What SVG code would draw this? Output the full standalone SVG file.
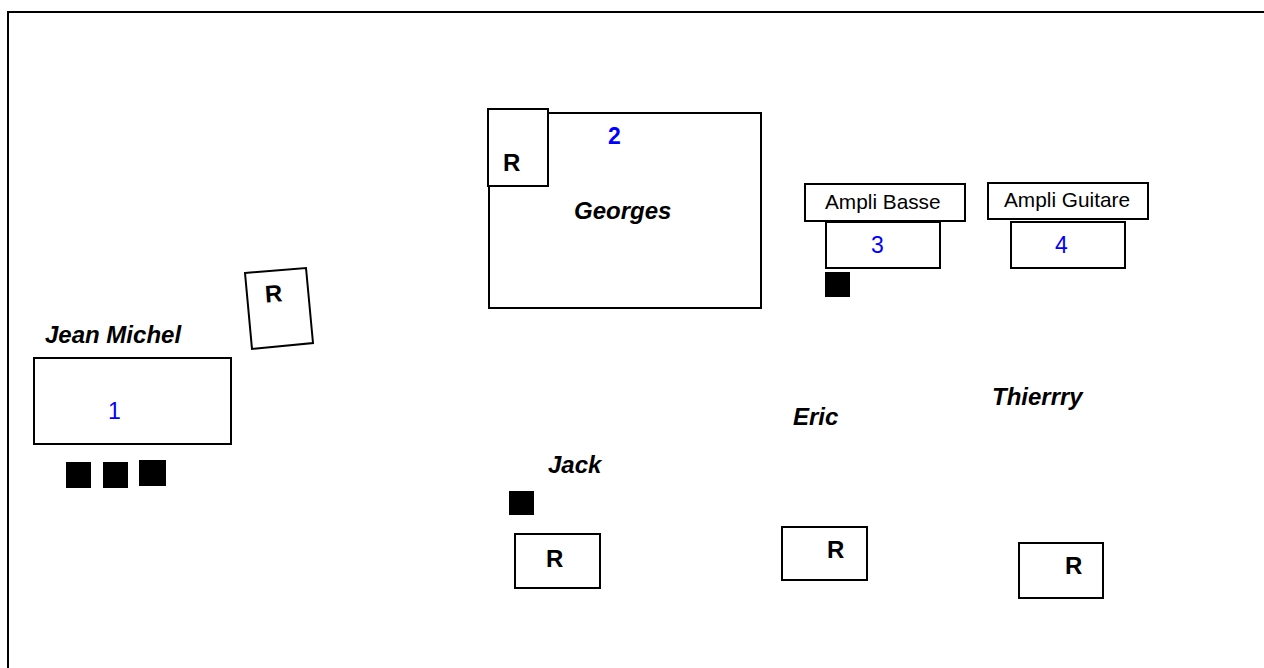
<svg xmlns="http://www.w3.org/2000/svg" width="1264" height="668" viewBox="0 0 1264 668">
<style>
.box{fill:#fff;stroke:#000;stroke-width:2}
.blk{fill:#000}
.r{font-family:"Liberation Sans",Arial,sans-serif;font-weight:bold;font-size:24px;fill:#000}
.name{font-family:"Liberation Sans",Arial,sans-serif;font-weight:bold;font-style:italic;font-size:24px;fill:#000}
.num{font-family:"Liberation Sans",Arial,sans-serif;font-size:23px;fill:#0000ff}
.amp{font-family:"Liberation Sans",Arial,sans-serif;font-size:20.8px;fill:#000}
</style>
<rect width="1264" height="668" fill="#fff"/>
<rect id="frame" x="8" y="12" width="1300" height="700" fill="none" stroke="#000" stroke-width="2"/>
<g id="connectors"></g>
<g id="jean-michel">
<text class="name" x="45" y="343">Jean Michel</text>
<rect class="box" x="34" y="358" width="197" height="86"/>
<text class="num" x="108" y="419">1</text>
<rect class="blk" x="66" y="462" width="25" height="26"/>
<rect class="blk" x="103" y="462" width="25" height="26"/>
<rect class="blk" x="139" y="460" width="27" height="26"/>
</g>
<g id="r-jean-michel">
<polygon class="box" points="245,273 306,268 313,343 252,349"/>
<text class="r" x="265" y="302" transform="rotate(-4 274 294)">R</text>
</g>
<g id="georges">
<rect class="box" x="489" y="113" width="272" height="195"/>
<text class="num" x="608" y="144" font-weight="bold">2</text>
<text class="name" x="574" y="219">Georges</text>
</g>
<g id="r-georges">
<rect class="box" x="488" y="109" width="60" height="77"/>
<text class="r" x="503" y="171">R</text>
</g>
<g id="ampli-basse">
<rect class="box" x="805" y="184" width="160" height="37"/>
<text class="amp" x="825" y="209">Ampli Basse</text>
<rect class="box" x="826" y="222" width="114" height="46"/>
<text class="num" x="871" y="253">3</text>
<rect class="blk" x="825" y="272" width="25" height="25"/>
</g>
<g id="ampli-guitare">
<rect class="box" x="988" y="183" width="160" height="36"/>
<text class="amp" x="1004" y="207">Ampli Guitare</text>
<rect class="box" x="1011" y="222" width="114" height="46"/>
<text class="num" x="1055" y="253">4</text>
</g>
<g id="eric">
<text class="name" x="793" y="425">Eric</text>
<rect class="box" x="782" y="527" width="85" height="53"/>
<text class="r" x="827" y="558">R</text>
</g>
<g id="thierrry">
<text class="name" x="992" y="405">Thierrry</text>
<rect class="box" x="1019" y="543" width="84" height="55"/>
<text class="r" x="1065" y="574">R</text>
</g>
<g id="jack">
<text class="name" x="548" y="473">Jack</text>
<rect class="blk" x="509" y="491" width="25" height="24"/>
<rect class="box" x="515" y="534" width="85" height="54"/>
<text class="r" x="546" y="567">R</text>
</g>
</svg>
